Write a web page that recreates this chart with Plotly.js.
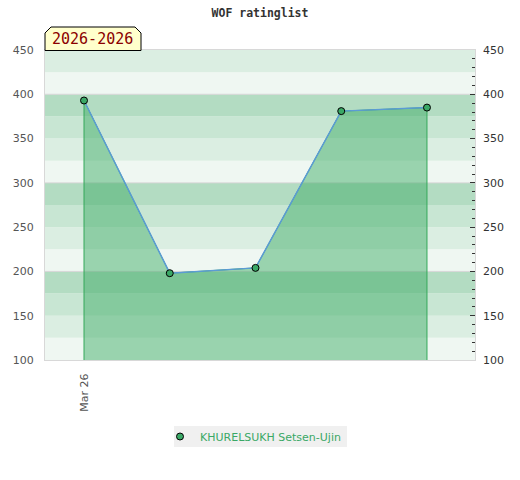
<!DOCTYPE html>
<html><head><meta charset="utf-8">
<script src="https://cdn.plot.ly/plotly-3.0.1.min.js"></script>
<style>html,body{margin:0;padding:0;background:#fff}</style>
</head><body>
<div id="chart" style="width:520px;height:480px"></div>
<script>
// ---- data ----
const xIdx = [0, 1, 2, 3, 4];
const ratings = [393, 198, 204, 381, 385];
const tickPositions = [0];
const tickLabels = ['Mar 26'];
const playerName = 'KHURELSUKH Setsen-Ujin';
const chartTitle = 'WOF ratinglist';
const periodLabel = '2026-2026';
const yMin = 100, yMax = 450;

// ---- layout helpers ----
const L = 45, R = 475, T = 50, B = 360;
const px = v => (v - L) / (R - L);
const py = v => (B - v) / (B - T);

const bandColors = ['#eff7f2', '#dbeee2', '#c8e6d3', '#b3dcc2'];
const shapes = [];
for (let v = yMin, i = 0; v < yMax; v += 25, i++) {
  shapes.push({type:'rect', xref:'paper', yref:'y', x0:0, x1:1, y0:v, y1:v+25,
    fillcolor: bandColors[i % 4], line:{width:0}, layer:'between'});
}
for (let v = yMin + 100; v < yMax; v += 100) {
  shapes.push({type:'line', xref:'paper', yref:'y', x0:0, x1:1, y0:v, y1:v,
    line:{color:'#d6d6d6', width:1}, layer:'between'});
}
// period label box (chamfered)
const bx0 = px(45), bx1 = px(141), by0 = py(50.5), by1 = py(27), cx = 6/(R-L), cy = 6/(B-T);
shapes.push({type:'path', xref:'paper', yref:'paper',
  path:`M${bx0},${by0} L${bx0},${by1-cy} L${bx0+cx},${by1} L${bx1-cx},${by1} L${bx1},${by1-cy} L${bx1},${by0} Z`,
  fillcolor:'#ffffcc', line:{color:'#000', width:1}, layer:'above'});
// legend background box
shapes.push({type:'rect', xref:'paper', yref:'paper', x0:px(174), x1:px(347), y0:py(447), y1:py(426),
  fillcolor:'#f0f0f0', line:{width:0}, layer:'above'});

const fillX = [xIdx[0], ...xIdx, xIdx[xIdx.length-1]];
const fillY = [yMin, ...ratings, yMin];

const traces = [
  {x: fillX, y: fillY, mode:'lines', fill:'toself', fillcolor:'rgba(58,170,97,0.47)',
   line:{color:'#34a85a', width:1}, showlegend:false, hoverinfo:'skip'},
  {x: xIdx, y: ratings, mode:'lines', line:{color:'#5b9bd5', width:1.5}, showlegend:false},
  {x: xIdx, y: ratings, mode:'markers', name: playerName, yaxis:'y2',
   marker:{color:'#3aa866', size:7, line:{color:'#000', width:1}}}
];

const layout = {
  width:520, height:480,
  margin:{l:L, r:520-R, t:T, b:480-B, pad:0},
  paper_bgcolor:'#fff', plot_bgcolor:'#fff',
  font:{family:'DejaVu Sans', size:11, color:'#555'},
  title:{text: chartTitle, x:0.5, xanchor:'center', y:1-13/480, yanchor:'middle', yref:'container',
    font:{family:'DejaVu Sans Mono', size:11.5, color:'#333', weight:'bold'}},
  xaxis:{range:[-0.455, 4.56], tickvals:tickPositions, ticktext:tickLabels, tickangle:-90,
    showgrid:false, zeroline:false, showline:true, mirror:true, linecolor:'#d8d8d8',
    ticks:'', ticklabelstandoff:8, tickfont:{size:11, color:'#555'}},
  yaxis:{range:[yMin, yMax], dtick:50, showgrid:false, zeroline:false, showline:true, mirror:true,
    linecolor:'#d8d8d8', ticks:'', ticklabelstandoff:8, tickfont:{size:11, color:'#555'}},
  yaxis2:{range:[yMin, yMax], dtick:50, overlaying:'y', side:'right', showgrid:false, zeroline:false,
    ticks:'inside', ticklen:5, tickcolor:'#333', ticklabelstandoff:7, tickfont:{size:11, color:'#333'},
    minor:{dtick:10, ticks:'inside', ticklen:3, tickcolor:'#333', showgrid:false}},
  shapes: shapes,
  annotations:[{text: periodLabel, xref:'paper', yref:'paper', x:(px(45)+px(141))/2 - 0.002, y:py(39),
    xanchor:'center', yanchor:'middle', showarrow:false,
    font:{family:'DejaVu Sans Mono', size:15, color:'#8b0000'}}],
  showlegend:true,
  legend:{orientation:'h', x:0.5 - 7/430, xanchor:'center', y:py(436.5), yanchor:'middle', itemwidth:30,
    bgcolor:'rgba(0,0,0,0)', font:{size:11, color:'#3aa866'}}
};

Plotly.newPlot('chart', traces, layout, {displayModeBar:false, staticPlot:true});
</script>
</body></html>
